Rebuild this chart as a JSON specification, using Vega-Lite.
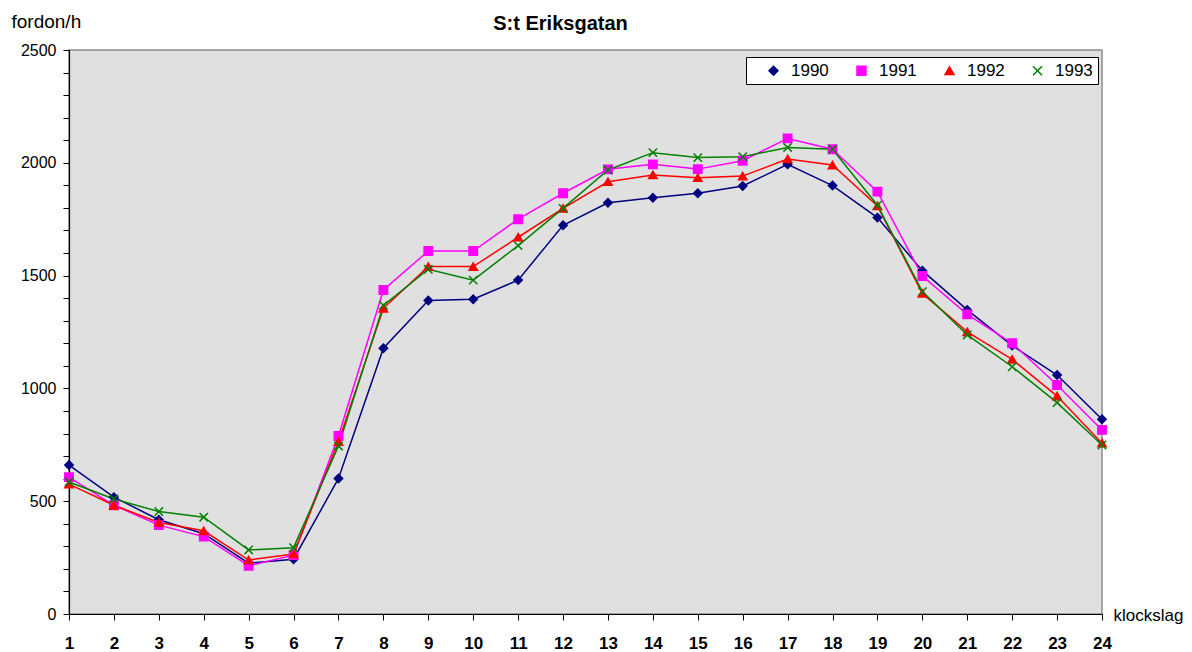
{
  "$schema": "https://vega.github.io/schema/vega-lite/v6.json",
  "width": 1033,
  "height": 564,
  "autosize": {"type": "none"},
  "padding": {"left": 69, "top": 50, "right": 90, "bottom": 38},
  "background": "white",
  "title": {"text": "S:t Eriksgatan", "font": "Liberation Sans", "fontSize": 20, "fontWeight": "bold", "color": "black", "anchor": "middle", "baseline": "alphabetic", "offset": 0, "dx": -25, "dy": 38, "frame": "group"},
  "config": {"view": {"fill": "#E0E0E0", "stroke": "#8C8C8C", "strokeWidth": 1.5}, "font": "Liberation Sans"},
  "data": {"values": [
    {"hour":1,"year":"1990","count":660},{"hour":2,"year":"1990","count":518},{"hour":3,"year":"1990","count":418},{"hour":4,"year":"1990","count":356},{"hour":5,"year":"1990","count":225},{"hour":6,"year":"1990","count":243},{"hour":7,"year":"1990","count":601},{"hour":8,"year":"1990","count":1178},{"hour":9,"year":"1990","count":1390},{"hour":10,"year":"1990","count":1395},{"hour":11,"year":"1990","count":1480},{"hour":12,"year":"1990","count":1723},{"hour":13,"year":"1990","count":1823},{"hour":14,"year":"1990","count":1845},{"hour":15,"year":"1990","count":1865},{"hour":16,"year":"1990","count":1897},{"hour":17,"year":"1990","count":1993},{"hour":18,"year":"1990","count":1899},{"hour":19,"year":"1990","count":1757},{"hour":20,"year":"1990","count":1522},{"hour":21,"year":"1990","count":1348},{"hour":22,"year":"1990","count":1190},{"hour":23,"year":"1990","count":1059},{"hour":24,"year":"1990","count":863},
    {"hour":1,"year":"1991","count":607},{"hour":2,"year":"1991","count":482},{"hour":3,"year":"1991","count":394},{"hour":4,"year":"1991","count":343},{"hour":5,"year":"1991","count":214},{"hour":6,"year":"1991","count":261},{"hour":7,"year":"1991","count":789},{"hour":8,"year":"1991","count":1436},{"hour":9,"year":"1991","count":1609},{"hour":10,"year":"1991","count":1609},{"hour":11,"year":"1991","count":1750},{"hour":12,"year":"1991","count":1865},{"hour":13,"year":"1991","count":1971},{"hour":14,"year":"1991","count":1993},{"hour":15,"year":"1991","count":1972},{"hour":16,"year":"1991","count":2009},{"hour":17,"year":"1991","count":2108},{"hour":18,"year":"1991","count":2060},{"hour":19,"year":"1991","count":1872},{"hour":20,"year":"1991","count":1498},{"hour":21,"year":"1991","count":1328},{"hour":22,"year":"1991","count":1200},{"hour":23,"year":"1991","count":1015},{"hour":24,"year":"1991","count":816},
    {"hour":1,"year":"1992","count":576},{"hour":2,"year":"1992","count":482},{"hour":3,"year":"1992","count":406},{"hour":4,"year":"1992","count":369},{"hour":5,"year":"1992","count":239},{"hour":6,"year":"1992","count":266},{"hour":7,"year":"1992","count":764},{"hour":8,"year":"1992","count":1355},{"hour":9,"year":"1992","count":1540},{"hour":10,"year":"1992","count":1540},{"hour":11,"year":"1992","count":1670},{"hour":12,"year":"1992","count":1798},{"hour":13,"year":"1992","count":1916},{"hour":14,"year":"1992","count":1946},{"hour":15,"year":"1992","count":1934},{"hour":16,"year":"1992","count":1941},{"hour":17,"year":"1992","count":2017},{"hour":18,"year":"1992","count":1990},{"hour":19,"year":"1992","count":1809},{"hour":20,"year":"1992","count":1421},{"hour":21,"year":"1992","count":1251},{"hour":22,"year":"1992","count":1129},{"hour":23,"year":"1992","count":966},{"hour":24,"year":"1992","count":757},
    {"hour":1,"year":"1993","count":585},{"hour":2,"year":"1993","count":510},{"hour":3,"year":"1993","count":454},{"hour":4,"year":"1993","count":429},{"hour":5,"year":"1993","count":284},{"hour":6,"year":"1993","count":294},{"hour":7,"year":"1993","count":745},{"hour":8,"year":"1993","count":1368},{"hour":9,"year":"1993","count":1528},{"hour":10,"year":"1993","count":1480},{"hour":11,"year":"1993","count":1633},{"hour":12,"year":"1993","count":1798},{"hour":13,"year":"1993","count":1968},{"hour":14,"year":"1993","count":2045},{"hour":15,"year":"1993","count":2023},{"hour":16,"year":"1993","count":2027},{"hour":17,"year":"1993","count":2068},{"hour":18,"year":"1993","count":2060},{"hour":19,"year":"1993","count":1812},{"hour":20,"year":"1993","count":1429},{"hour":21,"year":"1993","count":1237},{"hour":22,"year":"1993","count":1096},{"hour":23,"year":"1993","count":937},{"hour":24,"year":"1993","count":749}
  ]},
  "encoding": {
    "x": {
      "field": "hour", "type": "quantitative",
      "scale": {"domain": [1, 24], "nice": false, "zero": false},
      "axis": {
        "values": [1,2,3,4,5,6,7,8,9,10,11,12,13,14,15,16,17,18,19,20,21,22,23,24],
        "format": "d",
        "grid": false,
        "title": "klockslag",
        "titleX": 1044, "titleY": 6, "titleAlign": "left", "titleBaseline": "alphabetic",
        "titleFontSize": 17, "titleFontWeight": "normal", "titleColor": "black", "titleFont": "Liberation Sans",
        "labelFontSize": 17, "labelFontWeight": "bold", "labelColor": "black", "labelFont": "Liberation Sans",
        "labelPadding": 15, "labelFlush": false, "labelOverlap": false,
        "tickSize": 6, "tickColor": "black", "tickWidth": 1,
        "domainColor": "black", "domainWidth": 1.2
      }
    },
    "y": {
      "field": "count", "type": "quantitative",
      "scale": {"domain": [0, 2500], "nice": false},
      "axis": {
        "values": [0,100,200,300,400,500,600,700,800,900,1000,1100,1200,1300,1400,1500,1600,1700,1800,1900,2000,2100,2200,2300,2400,2500],
        "labelExpr": "datum.value % 500 === 0 ? datum.value : ''",
        "grid": false,
        "title": "fordon/h",
        "titleAngle": 0, "titleX": -58, "titleY": -23, "titleAlign": "left", "titleBaseline": "alphabetic",
        "titleFontSize": 19, "titleFontWeight": "normal", "titleColor": "black", "titleFont": "Liberation Sans",
        "labelFontSize": 16, "labelColor": "black", "labelFont": "Liberation Sans", "labelPadding": 7,
        "labelOverlap": false, "labelFlush": false,
        "tickSize": 6, "tickColor": "black", "tickWidth": 1,
        "domainColor": "black", "domainWidth": 1.2
      }
    },
    "color": {
      "field": "year", "type": "nominal",
      "scale": {"domain": ["1990","1991","1992","1993"], "range": ["#000080","#FF00FF","#FF0000","#008000"]},
      "legend": {
        "title": null, "orient": "none", "legendX": 677, "legendY": 7,
        "direction": "horizontal",
        "padding": 5, "fillColor": "white", "strokeColor": "black", "cornerRadius": 0,
        "symbolSize": 80, "symbolStrokeWidth": 1.5, "symbolOffset": 14,
        "labelFontSize": 17, "labelColor": "black", "labelFont": "Liberation Sans", "labelOffset": 9,
        "columnPadding": 10
      }
    }
  },
  "layer": [
    {"mark": {"type": "line", "strokeWidth": 1.5}},
    {
      "mark": {"type": "point", "filled": true, "size": 70, "opacity": 1, "strokeWidth": 1.5},
      "encoding": {
        "shape": {"field": "year", "type": "nominal", "scale": {"domain": ["1990","1991","1992","1993"], "range": ["diamond","square","triangle-up","M-1,-1L1,1M-1,1L1,-1"]}, "legend": null},
        "stroke": {"field": "year", "type": "nominal", "scale": {"domain": ["1990","1991","1992","1993"], "range": ["#000080","#FF00FF","#FF0000","#008000"]}, "legend": null}
      }
    }
  ]
}
